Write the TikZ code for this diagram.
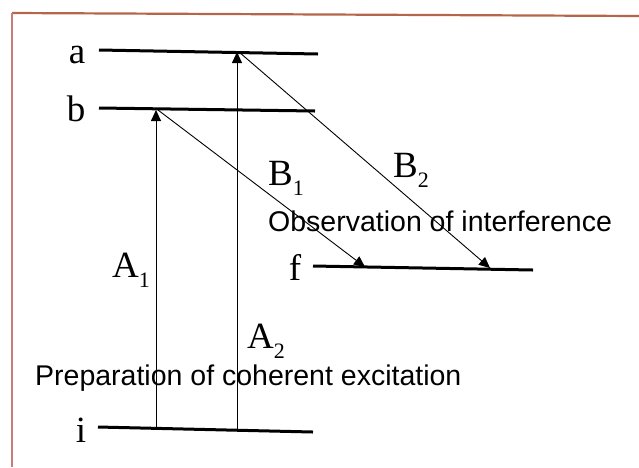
\documentclass[tikz,border=0pt]{standalone}
\usepackage{fontspec}
\setmainfont{Liberation Serif}
\newfontfamily\arialf{Liberation Sans}
\usetikzlibrary{arrows.meta}
\definecolor{frametop}{HTML}{B5654A}
\definecolor{frameleft}{HTML}{CC7A7A}
\newcommand{\lvlab}[1]{{\fontsize{37}{37}\selectfont #1}}
\newcommand{\sublab}[2]{{\fontsize{37}{37}\selectfont #1}\raisebox{-10pt}{\fontsize{22}{22}\selectfont #2}}
\tikzset{
  level/.style={line width=3pt},
  trans/.style={line width=0.9pt,-{Triangle[length=11pt,width=10pt]}},
  lab/.style={inner sep=0pt,anchor=base},
  sub/.style={inner sep=0pt,anchor=base west},
  caption/.style={inner sep=0pt,anchor=base west,font=\arialf\fontsize{28.5}{30}\selectfont},
}
\begin{document}
\begin{tikzpicture}[x=1pt,y=-1pt]
\useasboundingbox (0,0) rectangle (639,467);
% frame
\draw[frametop,line width=2.2pt] (12,13) -- (639,16);
\draw[frameleft,line width=2pt] (12,13) -- (12,467);
% levels
\coordinate (aL) at (99,50);  \coordinate (aR) at (318,54);
\coordinate (bL) at (99,108); \coordinate (bR) at (315,111);
\coordinate (fL) at (313,266); \coordinate (fR) at (533,270);
\coordinate (iL) at (98,427); \coordinate (iR) at (313,432);
\draw[level] (aL) -- (aR);
\draw[level] (bL) -- (bR);
\draw[level] (fL) -- (fR);
\draw[level] (iL) -- (iR);
% transition points
\coordinate (A1s) at (156,428); \coordinate (A1e) at (156,110);
\coordinate (A2s) at (237,430); \coordinate (A2e) at (237,52);
\coordinate (B1s) at (158,110); \coordinate (B1e) at (365,267);
\coordinate (B2s) at (239,52);  \coordinate (B2e) at (490,268);
\draw[trans] (A1s) -- (A1e);
\draw[trans] (A2s) -- (A2e);
\draw[trans] (B1s) -- (B1e);
\draw[trans] (B2s) -- (B2e);
% level labels
\node[lab] (la) at (77,63) {\lvlab{a}};
\node[lab] (lb) at (76,121) {\lvlab{b}};
\node[lab] (lf) at (295,280) {\lvlab{f}};
\node[lab] (li) at (81,442) {\lvlab{i}};
% transition labels
\node[sub] (tA1) at (112,277) {\sublab{A}{1}};
\node[sub] (tA2) at (247,348) {\sublab{A}{2}};
\node[sub] (tB1) at (268,185) {\sublab{B}{1}};
\node[sub] (tB2) at (393,177) {\sublab{B}{2}};
% captions
\node[caption] (obs) at (268,231) {Observation of interference};
\node[caption] (prep) at (35,385) {Preparation of coherent excitation};
\end{tikzpicture}
\end{document}
